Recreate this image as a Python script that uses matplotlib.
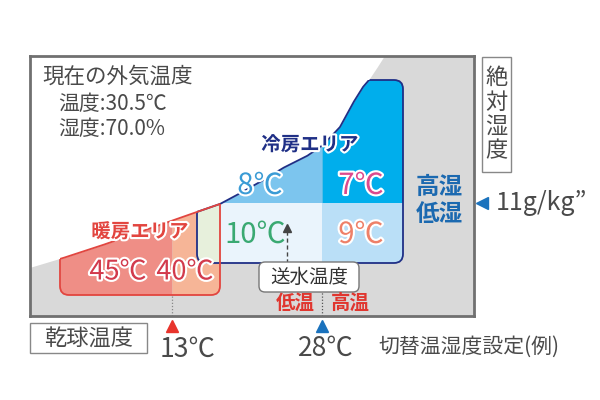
import numpy as np
import matplotlib
matplotlib.use('Agg')
import matplotlib.pyplot as plt
from matplotlib.patches import FancyBboxPatch, Polygon, Rectangle
import matplotlib.patheffects as pe
from matplotlib.transforms import blended_transform_factory

plt.rcParams['font.family'] = ['Noto Sans CJK JP', 'DejaVu Sans']

# ---- data (temperature ℃, absolute humidity g/kg) ----
sat_temp = [-1.2, 1.8, 5.8, 9.8, 14.6, 17.8, 19.5, 21.8, 24.1, 26.5, 28.1, 29.8, 31.1, 32.1, 32.8, 33.6, 34.3]
sat_hum = [4.5, 5.4, 6.7, 8.1, 9.8, 10.9, 11.8, 13.1, 14.5, 15.7, 16.8, 18.6, 21.0, 22.6, 23.4, 24.6, 25.7]
cool_temp = [15.5, 36.1]
cool_hum = [5.0, 23.3]
heat_temp = [1.8, 17.8]
heat_hum_bottom = 1.8
heat_split_temp = 13
cool_split_temp = 28
switch_hum = 11
cool_labels = ['8℃', '7℃', '10℃', '9℃']
heat_labels = ['45℃', '40℃']
xlim = (-1.2, 43.2)
ylim = (-0.3, 25.7)

GRAY = '#d9d9d9'
NAVY = '#1f2f86'
RED = '#e2453f'

fig = plt.figure(figsize=(6, 4), dpi=100)
fig.patch.set_facecolor('white')
ax = fig.add_axes([30/600, 84/400, 444/600, 260/400])
ax.set_xlim(*xlim)
ax.set_ylim(*ylim)
ax.set_xticks([]); ax.set_yticks([])
for s in ax.spines.values():
    s.set_color('#707070'); s.set_linewidth(2); s.set_zorder(20)

# saturation region (gray)
sat_x = list(sat_temp) + [50, 50, -5, -5]
sat_y = list(sat_hum) + [40, -5, -5, 3.4]
sat_poly = Polygon(np.column_stack([sat_x, sat_y]), closed=True, facecolor=GRAY,
                   edgecolor='none', zorder=1, transform=ax.transData)
ax.add_patch(sat_poly)
sat_clip = Polygon(np.column_stack([sat_x, sat_y]), closed=True, transform=ax.transData)

def curve(x):
    return np.interp(x, sat_temp, sat_hum)

# rounded rects
cool_rr = FancyBboxPatch((cool_temp[0], cool_hum[0]), cool_temp[1]-cool_temp[0], cool_hum[1]-cool_hum[0],
                         boxstyle="round,pad=0,rounding_size=0.9", transform=ax.transData)
heat_rr = FancyBboxPatch((heat_temp[0], heat_hum_bottom), heat_temp[1]-heat_temp[0], 12,
                         boxstyle="round,pad=0,rounding_size=0.9", transform=ax.transData)

# heating fills
for (a, b), col in zip([(heat_temp[0], heat_split_temp), (heat_split_temp, heat_temp[1])],
                       ['#ef8e86', '#f6b597']):
    xs = np.linspace(a, b, 300)
    f = ax.fill_between(xs, heat_hum_bottom - 1, curve(xs), color=col, lw=0, zorder=2)
    f.set_clip_path(heat_rr)

# cooling fills
def cool_fill(a, b, lo, hi_cap, col, z=3):
    xs = np.linspace(a, b, 400)
    hi = np.minimum(curve(xs), hi_cap)
    f = ax.fill_between(xs, lo, hi, where=hi > lo, interpolate=True, color=col, lw=0, zorder=z)
    f.set_clip_path(cool_rr)

cool_fill(cool_temp[0], cool_split_temp, switch_hum, cool_hum[1], '#7cc5ee')
cool_fill(cool_split_temp, cool_temp[1] + 1, switch_hum, cool_hum[1], '#00aeec')
cool_fill(cool_temp[0] - 1, cool_split_temp, cool_hum[0] - 1, switch_hum, '#eaf4fc')
cool_fill(cool_split_temp, cool_temp[1] + 1, cool_hum[0] - 1, switch_hum, '#badff7')
# overlap
cool_fill(cool_temp[0] - 1, heat_temp[1], cool_hum[0] - 1, 99, '#e7f0dc', z=4)

# outlines
xs_all = np.linspace(xlim[0], 40, 800)
l1, = ax.plot(xs_all, curve(xs_all), color=NAVY, lw=1.3, zorder=5)
l1.set_clip_path(cool_rr)
co = FancyBboxPatch((cool_temp[0], cool_hum[0]), cool_temp[1]-cool_temp[0], cool_hum[1]-cool_hum[0],
                    boxstyle="round,pad=0,rounding_size=0.9", facecolor='none', edgecolor=NAVY,
                    lw=1.3, zorder=5)
ax.add_patch(co)
co.set_clip_path(sat_clip)
l2, = ax.plot(xs_all, curve(xs_all), color=RED, lw=1.3, zorder=6)
l2.set_clip_path(heat_rr)
ho = FancyBboxPatch((heat_temp[0], heat_hum_bottom), heat_temp[1]-heat_temp[0], 12,
                    boxstyle="round,pad=0,rounding_size=0.9", facecolor='none', edgecolor=RED,
                    lw=1.3, zorder=6)
ax.add_patch(ho)
ho.set_clip_path(sat_clip)

# dotted guide lines
ax.plot([heat_split_temp]*2, [ylim[0], heat_hum_bottom], ls=(0, (1, 1.5)), color='#888888', lw=0.9, zorder=7)
ax.plot([cool_split_temp]*2, [ylim[0], cool_hum[0]], ls=(0, (1, 1.5)), color='#555555', lw=0.9, zorder=7)
# dashed arrow
ax.plot([24.5, 24.5], [5.0, 8.3], ls=(0, (3, 2)), color='#444444', lw=1, zorder=7)
ax.plot([24.5], [8.5], marker='^', ms=6, color='#444444', zorder=7)

# labels in data coords
stroke = [pe.withStroke(linewidth=3, foreground='white')]
tkw = dict(ha='center', va='center', fontsize=21, zorder=9)
ax.text(21.8, 12.7, cool_labels[0], color='#3a9bd5', path_effects=stroke, **tkw)
ax.text(31.9, 12.7, cool_labels[1], color='#dc4a8e', path_effects=stroke, **tkw)
ax.text(21.3, 7.8, cool_labels[2], color='#3aa972', **tkw)
ax.text(31.9, 7.8, cool_labels[3], color='#ee8068', path_effects=stroke, **tkw)
hkw = dict(ha='center', va='center', fontsize=19.5, zorder=9)
ax.text(7.6, 4.1, heat_labels[0], color='#d23a4c', path_effects=stroke, **hkw)
ax.text(14.3, 4.1, heat_labels[1], color='#d23a4c', path_effects=stroke, **hkw)
ax.text(26.8, 16.8, '冷房エリア', color=NAVY, fontsize=14, fontweight='bold', ha='center', va='center',
        path_effects=stroke, zorder=9)
ax.text(9.8, 8.1, '暖房エリア', color=RED, fontsize=14, fontweight='bold', ha='center', va='center',
        path_effects=stroke, zorder=9)
ax.text(39.7, 12.6, '高湿', color='#1b69b0', fontsize=17, fontweight='bold', ha='center', va='center', zorder=9)
ax.text(39.7, 9.9, '低湿', color='#1b69b0', fontsize=17, fontweight='bold', ha='center', va='center', zorder=9)

# overlay in pixel coords
ov = fig.add_axes([0, 0, 1, 1], zorder=5)
ov.set_xlim(0, 600); ov.set_ylim(400, 0); ov.axis('off')
ov.patch.set_alpha(0)
DARK = '#4a4a4a'
ov.text(42, 77, '現在の外気温度', fontsize=15.5, color=DARK, ha='left', va='center')
ov.text(58, 104, '温度:30.5℃', fontsize=15, color=DARK, ha='left', va='center')
ov.text(58, 129, '湿度:70.0%', fontsize=15, color=DARK, ha='left', va='center')

# 送水温度 box
ov.add_patch(FancyBboxPatch((259, 262), 100, 30, boxstyle="round,pad=0,rounding_size=6",
                            facecolor='white', edgecolor='#777777', lw=1))
ov.text(309, 277, '送水温度', fontsize=14, color='#333333', ha='center', va='center')
ov.text(295, 303, '低温', fontsize=14, color='#e0362f', fontweight='bold', ha='center', va='center')
ov.text(350, 303, '高温', fontsize=14, color='#e0362f', fontweight='bold', ha='center', va='center')

# 絶対湿度 box
ov.add_patch(Rectangle((482, 57), 29, 115, facecolor='white', edgecolor='#888888', lw=1))
ov.text(496.5, 114.5, '絶\n対\n湿\n度', fontsize=16, color=DARK, ha='center', va='center', linespacing=1.08)

# 乾球温度 box
ov.add_patch(Rectangle((30, 323), 117, 30, facecolor='white', edgecolor='#888888', lw=1))
ov.text(88.5, 338, '乾球温度', fontsize=16, color=DARK, ha='center', va='center')

# markers
bx = blended_transform_factory(ax.transData, ov.transData)
ov.plot([heat_split_temp], [326], marker='^', ms=8, color='#e8342c', transform=bx, clip_on=False)
ov.plot([cool_split_temp], [326], marker='^', ms=8, color='#1a72bd', transform=bx, clip_on=False)
ov.text(heat_split_temp - 1.2, 349, f'{heat_split_temp}℃', fontsize=19, color=DARK, ha='left', va='center',
        transform=bx)
ov.text(cool_split_temp - 2.4, 348, f'{cool_split_temp}℃', fontsize=19, color=DARK, ha='left', va='center',
        transform=bx)
ov.text(378, 347, '切替温湿度設定(例)', fontsize=15, color=DARK, ha='left', va='center')

by = blended_transform_factory(ov.transData, ax.transData)
ov.plot([482], [switch_hum], marker='<', ms=9, color='#1a72bd', transform=by, clip_on=False)
ov.text(496, switch_hum, '11g/kg”', fontsize=18, color=DARK, ha='left', va='center', transform=by)

fig.savefig('out.png', dpi=100)
